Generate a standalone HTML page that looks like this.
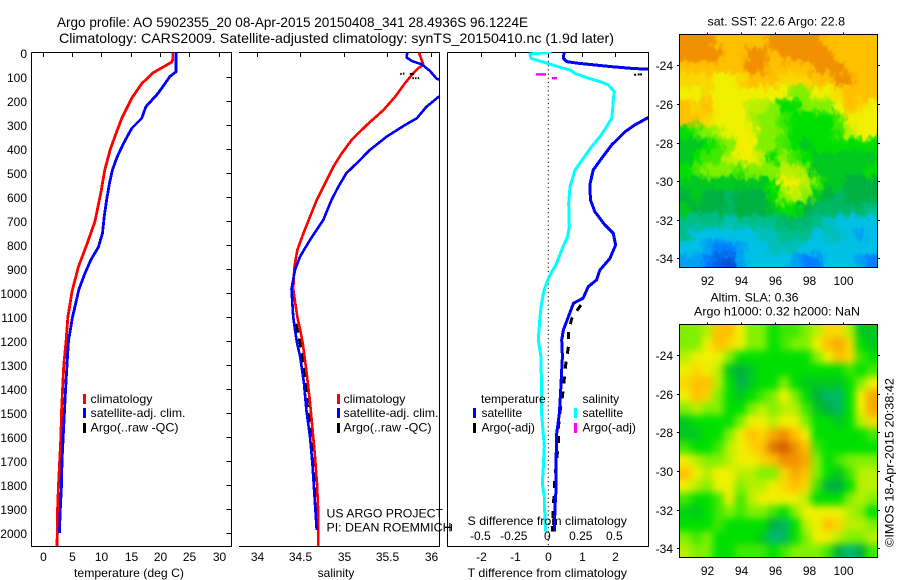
<!DOCTYPE html>
<html>
<head>
<meta charset="utf-8">
<title>Argo profile</title>
<style>
html,body{margin:0;padding:0;background:#fff;}
svg{display:block;}
text{font-family:"Liberation Sans",sans-serif;font-size:12px;fill:#000;}
.t14{font-size:14px;}
</style>
</head>
<body>
<svg id="fig" xmlns="http://www.w3.org/2000/svg" width="900" height="580" viewBox="0 0 900 580">
<defs>
<clipPath id="c1"><rect x="32" y="52" width="199" height="494"/></clipPath>
<clipPath id="c2"><rect x="239" y="52" width="200" height="494"/></clipPath>
<clipPath id="c3"><rect x="448" y="52" width="200" height="494"/></clipPath>
<clipPath id="cm1"><rect x="680" y="35" width="197" height="232"/></clipPath>
<clipPath id="cm2"><rect x="680" y="325" width="197" height="232"/></clipPath>
<filter id="blurA" x="-10%" y="-10%" width="120%" height="120%" color-interpolation-filters="sRGB">
<feGaussianBlur in="SourceGraphic" stdDeviation="2.5" result="soft"/>
<feTurbulence type="fractalNoise" baseFrequency="0.16 0.11" numOctaves="2" seed="7" result="noise"/>
<feDisplacementMap in="soft" in2="noise" scale="16" xChannelSelector="R" yChannelSelector="G"/>
</filter>
<filter id="blurB" x="-10%" y="-10%" width="120%" height="120%" color-interpolation-filters="sRGB"><feGaussianBlur stdDeviation="3.6"/></filter>
</defs>

<text class="t14" x="57" y="27" textLength="471" lengthAdjust="spacingAndGlyphs">Argo profile: AO 5902355_20 08-Apr-2015 20150408_341 28.4936S 96.1224E</text>
<text class="t14" x="59" y="43" textLength="555" lengthAdjust="spacingAndGlyphs">Climatology: CARS2009. Satellite-adjusted climatology: synTS_20150410.nc (1.9d later)</text>

<g id="p1">
<path d="M31.5 52.5H231.5V546.5H31.5V52.5" fill="none" stroke="#000" stroke-width="1" shape-rendering="crispEdges"/>
</g>
<g id="p2">
<path d="M239 52.5H439.5V546.5H239" fill="none" stroke="#000" stroke-width="1" shape-rendering="crispEdges"/>
</g>
<g id="p3">
<path d="M447.5 52.5H648.5V546.5H447.5V52.5" fill="none" stroke="#000" stroke-width="1" shape-rendering="crispEdges"/>
<path d="M445 527.5H451.5M451.5 524V531" fill="none" stroke="#000" stroke-width="1" shape-rendering="crispEdges"/>
</g>

<g id="m1"></g>
<g id="m2"></g>

<!-- legends -->
<g>
<rect x="83" y="394" width="3" height="10" fill="#f00"/>
<rect x="83" y="408" width="3" height="10" fill="#00f"/>
<rect x="83" y="423" width="3" height="10" fill="#000"/>
<text x="90.5" y="403" textLength="62" lengthAdjust="spacingAndGlyphs">climatology</text>
<text x="90.5" y="417" textLength="95" lengthAdjust="spacingAndGlyphs">satellite-adj. clim.</text>
<text x="90.5" y="431.5" textLength="88" lengthAdjust="spacingAndGlyphs">Argo(..raw -QC)</text>
</g>
<g>
<rect x="337" y="394" width="3" height="10" fill="#f00"/>
<rect x="337" y="408" width="3" height="10" fill="#00f"/>
<rect x="337" y="423" width="3" height="10" fill="#000"/>
<text x="343.5" y="403" textLength="62" lengthAdjust="spacingAndGlyphs">climatology</text>
<text x="343.5" y="417" textLength="95" lengthAdjust="spacingAndGlyphs">satellite-adj. clim.</text>
<text x="343.5" y="431.5" textLength="88" lengthAdjust="spacingAndGlyphs">Argo(..raw -QC)</text>
<text x="326.5" y="517.5" textLength="116.5" lengthAdjust="spacingAndGlyphs">US ARGO PROJECT</text>
<text x="326.5" y="531.5" textLength="125" lengthAdjust="spacingAndGlyphs">PI: DEAN ROEMMICH</text>
</g>
<g>
<text x="481" y="403">temperature</text>
<text x="582.5" y="403">salinity</text>
<rect x="473" y="408" width="3" height="10" fill="#00f"/>
<rect x="473" y="423" width="3" height="10" fill="#000"/>
<rect x="574" y="408" width="3" height="10" fill="#0ff"/>
<rect x="574" y="423" width="3" height="10" fill="#f0f"/>
<text x="481.5" y="417">satellite</text>
<text x="481.5" y="431.5">Argo(-adj)</text>
<text x="582.5" y="417">satellite</text>
<text x="582.5" y="431.5">Argo(-adj)</text>
</g>

<text x="74" y="577" textLength="110" lengthAdjust="spacingAndGlyphs">temperature (deg C)</text>
<text x="336" y="577" text-anchor="middle">salinity</text>
<text x="467.5" y="525" textLength="159.5" lengthAdjust="spacingAndGlyphs">S difference from climatology</text>
<text x="467.5" y="577" textLength="159.5" lengthAdjust="spacingAndGlyphs">T difference from climatology</text>

<text x="707.5" y="25.5" textLength="137.5" lengthAdjust="spacingAndGlyphs">sat. SST: 22.6 Argo: 22.8</text>
<text x="710.5" y="301.5" textLength="88" lengthAdjust="spacingAndGlyphs">Altim. SLA: 0.36</text>
<text x="694" y="315.5" textLength="166" lengthAdjust="spacingAndGlyphs">Argo h1000: 0.32 h2000: NaN</text>
<text transform="translate(893.5,547) rotate(-90)" textLength="169" lengthAdjust="spacingAndGlyphs">©IMOS 18-Apr-2015 20:38:42</text>
</svg>

<script>
// ----- axis tick labels -----
var depthTicks = [0,100,200,300,400,500,600,700,800,900,1000,1100,1200,1300,1400,1500,1600,1700,1800,1900,2000];
var tempTicks = [0,5,10,15,20,25,30];
var salTicks = [34,34.5,35,35.5,36];
var dTTicks = [-2,-1,0,1,2];
var dSTicks = [-0.5,-0.25,0,0.25,0.5];
var lonTicks = [92,94,96,98,100];
var latTicks = [-24,-26,-28,-30,-32,-34];

// ----- temperature panel -----
var tempClimDepth = [0,30,40,60,85,130,190,274,344,406,489,587,704,801,892,996,1100,1200,1300,1400,1500,1600,1700,1800,1900,2000,2060];
var tempClimValue = [22.2,22.2,22.0,20.6,18.8,16.9,15.2,13.5,12.4,11.5,10.6,9.9,8.9,7.5,6.1,5.0,4.3,4.0,3.6,3.4,3.2,3.1,2.9,2.7,2.55,2.5,2.4];
var tempSatDepth = [0,80,100,170,226,274,315,378,435,489,544,614,684,752,810,864,920,985,1100,1200,1300,1400,1500,1600,1700,1800,1900,2000];
var tempSatValue = [22.75,22.75,21.7,19.7,17.6,16.9,15.2,13.8,12.7,11.9,11.4,10.9,10.5,10.2,9.5,8.2,7.2,6.2,5.1,4.4,4.15,3.9,3.7,3.5,3.3,3.2,3.0,2.85];

// ----- salinity panel -----
var salClimDepth = [0,24,52,65,94,128,185,240,302,364,420,476,545,614,684,754,823,892,985,1100,1155,1211,1336,1447,1544,1669,1794,1933,2055];
var salClimValue = [35.866,35.889,35.916,35.858,35.782,35.705,35.59,35.456,35.264,35.092,34.977,34.881,34.785,34.69,34.613,34.536,34.467,34.433,34.42,34.467,34.5,34.53,34.575,34.61,34.636,34.667,34.693,34.709,34.709];
var salSatDepth = [0,21,35,49,76,110,130,170,185,226,274,302,350,406,461,503,558,614,697,780,850,905,985,1100,1155,1211,1267,1378,1489,1600,1711,1822,1988];
var salSatValue = [35.73,35.724,35.78,35.897,35.99,36.07,36.25,36.2,36.09,35.95,35.84,35.705,35.494,35.3,35.15,35.03,34.94,34.86,34.766,34.613,34.498,34.44,34.40,34.42,34.44,34.464,34.5,34.544,34.571,34.613,34.64,34.66,34.69];
var salArgoDepth = [1130,1211,1300,1378,1500,1600,1700,1822,1900,1980];
var salArgoValue = [34.45,34.5,34.54,34.56,34.59,34.625,34.65,34.67,34.685,34.7];
var salArgoTopDepth = [89,88,89,107,107,107];
var salArgoTopValue = [35.65,35.68,35.76,35.79,35.82,35.85];

// ----- difference panel -----
var dTSatDepth = [0,24,38,45,52,59,66,70,76];
var dTSatValue = [0.47,0.45,0.55,0.9,1.4,1.9,2.5,3.0,3.5];
var dTDeepDepth = [200,271,302,330,385,441,489,552,614,663,718,753,802,857,906,947,975,1023,1044,1100,1155,1197,1266,1405,1502,1586,1711,1822,1891,1995];
var dTDeepValue = [4.4,2.98,2.58,2.29,1.89,1.59,1.34,1.24,1.26,1.39,1.69,1.94,2.01,1.84,1.54,1.44,1.19,1.04,0.75,0.6,0.45,0.4,0.42,0.37,0.33,0.25,0.23,0.23,0.2,0.18];
var dSSatDepth = [0,6,24,38,59,73,87,107,121,135,163,198,239,274,309,350,392,441,489,559,628,725,767,822,878,933,989,1044,1100,1197,1266,1405,1502,1641,1725,1794,1850,1933,1995];
var dSSatValue = [0.025,-0.137,-0.129,-0.05,0.075,0.162,0.199,0.299,0.386,0.448,0.493,0.485,0.48,0.473,0.435,0.386,0.323,0.261,0.199,0.162,0.152,0.157,0.144,0.1,0.062,0.007,-0.032,-0.05,-0.062,-0.075,-0.055,-0.05,-0.05,-0.03,-0.037,-0.045,-0.03,-0.025,-0.02];
var dTArgoDepth = [1051,1107,1162,1225,1301,1370,1433,1495,1565,1627,1766,1836,1905,1995];
var dTArgoValue = [0.97,0.7,0.6,0.6,0.52,0.47,0.42,0.35,0.3,0.3,0.2,0.17,0.15,0.12];
var dTArgoTopDepth = [93,91,91];
var dTArgoTopValue = [2.56,2.67,2.74];
var dSArgoStart = [-0.092,0.027];
var dSArgoEnd = [-0.017,0.065];
var dSArgoDepth = [91,107];

// ----- map grids (colour level 0 = deep blue ... 10 = dark orange) -----
var sstRows = [
[9,9,9,8,8,8,8,8,9,9,9,9,9,8,8,8,8,8],
[9,9,9,9,8,8,9,9,8,9,9,9,9,9,8,8,8,8],
[8,8,8,8,8,8,9,9,8,8,8,8,9,9,9,8,8,8],
[7.5,7.5,7.5,7,7,7.5,8,8,8,7.5,7.5,7.5,8,8,9,9,8,8],
[7,7,7.5,7,7,7,7,7,7,7,6,6,7,7,7.5,8,8,8],
[8,7.5,8,7,7,7,6.5,6.5,6,5,5,6,6,6,7,8,7.5,7],
[8,8,7.5,7,7,7,6.5,6,6,5.5,5,5,5,5,5.5,7,7,7],
[5,5.5,6,6.5,7,7,7,6,6,5.5,5,5,5,5,5.5,6.5,7,7],
[4.5,4.5,5,5.5,6,7,7,6,6,5.5,5,4.5,5,5,5,5,5,5],
[4.5,5,5.5,5.5,6.5,7,7,6.5,5,6,5.5,5,4.5,4.5,4.5,4.5,4.5,4.5],
[5,5.5,6,6,6,5.5,6,6,6,6.5,6.5,6,4.5,4.5,4.5,4.5,4.5,5],
[4.5,4.5,4.5,4.5,4.5,4.5,4.5,4.5,5,7,7,6.5,5.5,4.5,4.5,4,4,4],
[4,4.5,4,4,3.5,4,4,4,5,6,6.5,6,4.5,4,3.5,4,4,4],
[4.5,4,4,4,3.5,4,4,4,4.5,5,5,4,3.5,3.5,3.5,3.5,3.5,3],
[3,3,3,3,2.5,3,3,3,3,3.5,3.5,3.5,3,2.5,2,2,2,2],
[3,2,2,2,2,2,2,2.5,2.5,3,3,3,2,2.5,2.5,2,1.5,2],
[2,2,1.5,1,1,1.5,2,2,2.5,2.5,2.5,2,2,2,2,2,2,2],
[1.5,1.5,1,0.5,0.3,1.5,2,2,2,2,1.5,1,1,2,2,2,1.5,1]
];
var slaRows = [
[6,6,6.5,8,8,7,6,6,5,5.5,5.5,6,6.5,7.5,7.5,6.5,4.5,4.5],
[6,6,7,8,7.5,7,6,6,5,5.5,6,6,7,8,8.5,7.5,5,4.5],
[6.5,7,7,7,6,5,5,5,5,5,5,5,6,7,8,7.5,5.5,5],
[7,7.5,7,6.5,4.5,4,4.5,5,5,5,5,5,5,5,5,5.5,5,5.5],
[7.5,8,8,6.5,5,3.8,4.5,5,5,6,5,4.5,4.5,4.5,4.5,5,6,7],
[7,8,7.5,6,5,4.5,5,5.5,6,7,6,5,4,3.5,3.5,5,7,8.5],
[6,6.5,6,6,5,5,6,6.5,6,6.5,6.5,5.5,4.5,4,3.5,5,7,8.5],
[4.5,5,5,5,5,6,7,7,6.5,7,7,6,5,5,4.5,5,6.5,7.5],
[4.5,4.5,5,5,6,7,8,7.5,8.5,9,8,7,5,5,5,5,5,5.5],
[5.5,5,5,5.5,6.5,7,7.5,8,9.5,10,9,8,5.5,5,5,5,5,5],
[7,6.5,6,6,6.5,7,7,7.5,8,9,9,8.5,6,5,5.5,6,6,6],
[8,7,6.5,7,7,6.5,6.5,6,6,7.5,8.5,8,6,5,4.5,5.5,6.5,6.5],
[7,6.5,6,7,7,6,6.5,6.5,7,7.5,8,7.5,5.5,4,4,5,6.5,6.5],
[5.5,5,5,5.5,7,5.5,6.5,7,7,7,7,6.5,5,5,5,6,6.5,6],
[4.8,4.5,5,5.5,6,5.5,6,6,5.5,5,6,7,7,7,7,6.5,6,5],
[5,5,5,5.5,5,5,5,5,4,3.5,5,6.5,7,8,7.5,6.5,6.5,6],
[6,5.5,6,5,5,5,5,4.5,3.3,3.5,5,6,7,7,6.5,6,6,6.5],
[6.5,6,6,5,5,5.5,5.5,5.5,5,5.5,6,6,6,5.5,4,3.2,4,5.5]
];

// ----- axis functions -----
var NS = 'http://www.w3.org/2000/svg';
function yDepth(d){ return 52.5 + d * 0.2402; }
function xTemp(t){ return 42.7 + t * 5.86; }
function xSal(s){ return 256.7 + (s - 34) * 87; }
function xDT(t){ return 548.3 + t * 33.5; }
function xDS(s){ return 548.3 + s * 134; }
function lonX(lon){ return 707.3 + (lon - 92) * 17; }
function latA(lat){ return 65.3 + (-24 - lat) * 19.3; }
function latB(lat){ return 355 + (-24 - lat) * 19.33; }

var levels = [0,1,2,3,4,5,6,7,8,9,10];
var levelColors = [[0,64,192],[0,128,255],[0,192,230],[0,190,140],[0,176,64],[0,224,0],[128,240,0],[240,240,0],[255,192,0],[240,144,0],[208,96,0]];
function colorOf(v){
  var i = Math.max(0, Math.min(levels.length - 2, Math.floor(v)));
  var f = Math.max(0, Math.min(1, v - levels[i]));
  var a = levelColors[i], b = levelColors[i + 1];
  return 'rgb(' + Math.round(a[0] + (b[0] - a[0]) * f) + ',' + Math.round(a[1] + (b[1] - a[1]) * f) + ',' + Math.round(a[2] + (b[2] - a[2]) * f) + ')';
}

function node(parent, tag){
  var el = document.createElementNS(NS, tag);
  parent.appendChild(el);
  return el;
}
function curve(parent, depths, values, xf, color, width, clip, dash){
  var el = node(parent, 'polyline');
  var pts = [];
  for (var i = 0; i < depths.length; i++) {
    pts.push(xf(values[i]).toFixed(1) + ',' + yDepth(depths[i]).toFixed(1));
  }
  el.setAttribute('points', pts.join(' '));
  el.setAttribute('fill', 'none');
  el.setAttribute('stroke', color);
  el.setAttribute('stroke-width', width);
  el.setAttribute('stroke-linejoin', 'round');
  el.setAttribute('shape-rendering', 'crispEdges');
  el.setAttribute('clip-path', 'url(#' + clip + ')');
  if (dash) el.setAttribute('stroke-dasharray', dash);
  return el;
}
function label(parent, x, y, str, anchor){
  var el = node(parent, 'text');
  el.setAttribute('x', x);
  el.setAttribute('y', y);
  el.setAttribute('text-anchor', anchor);
  el.textContent = str;
  return el;
}
function tick(parent, x1, y1, x2, y2){
  var el = node(parent, 'line');
  el.setAttribute('x1', x1);
  el.setAttribute('y1', y1);
  el.setAttribute('x2', x2);
  el.setAttribute('y2', y2);
  el.setAttribute('stroke', '#000');
  el.setAttribute('shape-rendering', 'crispEdges');
  return el;
}

var p1 = document.getElementById('p1');
var p2 = document.getElementById('p2');
var p3 = document.getElementById('p3');

// depth axis on the temperature panel
depthTicks.forEach(function(d){
  var y = Math.round(yDepth(d)) + 0.5;
  var l = label(p1, 27, y + 4.5, String(d), 'end');
  
  
  if (d > 0) {
    var t = tick(p1, 226.5, y, 231.5, y);
    
    
  }
});
tempTicks.forEach(function(v){
  var x = Math.round(xTemp(v)) + 0.5;
  var l = label(p1, x, 561, String(v), 'middle');
  
  
  var t = tick(p1, x, 52.5, x, 57);
  
  
});
salTicks.forEach(function(v){
  var x = Math.round(xSal(v)) + 0.5;
  var l = label(p2, x, 561, String(v), 'middle');
  
  
  var t = tick(p2, x, 52.5, x, 57);
  
  
});
dTTicks.forEach(function(v){
  var x = Math.round(xDT(v)) + 0.5;
  var l = label(p3, x, 561, String(v), 'middle');
  
  
  var t = tick(p3, x, 52.5, x, 57);
  
  
});
dSTicks.forEach(function(v){
  var l = label(p3, xDS(v) - 1, 540, String(v), 'middle');
  
  
});

// temperature curves
var c;
c = curve(p1, tempClimDepth, tempClimValue, xTemp, '#f00', 2.8, 'c1');


c = curve(p1, tempSatDepth, tempSatValue, xTemp, '#00f', 2.8, 'c1');



// salinity curves
c = curve(p2, salArgoDepth, salArgoValue, xSal, '#000', 3, 'c2', '9 6');


c = curve(p2, salClimDepth, salClimValue, xSal, '#f00', 2.6, 'c2');


c = curve(p2, salSatDepth, salSatValue, xSal, '#00f', 2.6, 'c2');


salArgoTopDepth.forEach(function(d, i){
  var m = node(p2, 'rect');
  m.setAttribute('x', xSal(salArgoTopValue[i]).toFixed(1));
  m.setAttribute('y', (yDepth(d) - 1).toFixed(1));
  m.setAttribute('width', i === 2 ? 4 : 1.5);
  m.setAttribute('height', 2);
  m.setAttribute('fill', '#000');
  
  
});

// difference panel
var zero = tick(p3, xDT(0), 52.5, xDT(0), 546);
zero.setAttribute('stroke-dasharray', '1.2 3');
zero.removeAttribute('shape-rendering');


c = curve(p3, dTArgoDepth, dTArgoValue, xDT, '#000', 3, 'c3', '7 8');


c = curve(p3, dSSatDepth, dSSatValue, xDS, '#0ff', 3, 'c3');


c = curve(p3, dTSatDepth, dTSatValue, xDT, '#00f', 3, 'c3');


c = curve(p3, dTDeepDepth, dTDeepValue, xDT, '#00f', 3, 'c3');


dTArgoTopDepth.forEach(function(d, i){
  var m = node(p3, 'rect');
  m.setAttribute('x', xDT(dTArgoTopValue[i]).toFixed(1));
  m.setAttribute('y', (yDepth(d) - 1).toFixed(1));
  m.setAttribute('width', 2);
  m.setAttribute('height', 2);
  m.setAttribute('fill', '#000');
  
  
});
dSArgoDepth.forEach(function(d, i){
  var m = node(p3, 'rect');
  m.setAttribute('x', xDS(dSArgoStart[i]).toFixed(1));
  m.setAttribute('y', (yDepth(d) - 1.2).toFixed(1));
  m.setAttribute('width', (xDS(dSArgoEnd[i]) - xDS(dSArgoStart[i])).toFixed(1));
  m.setAttribute('height', 2.4);
  m.setAttribute('fill', '#f0f');
  
  
});

// maps
function drawMap(host, rows, top, height, clip, filter, latFn, baseline, prefix){
  var left = 680, width = 197;
  var clipG = node(host, 'g');
  clipG.setAttribute('clip-path', 'url(#' + clip + ')');
  
  
  var g = node(clipG, 'g');
  g.setAttribute('filter', 'url(#' + filter + ')');
  
  
  var nr = rows.length, nc = rows[0].length;
  var cw = width / nc, ch = height / nr, pad = 20;
  rows.forEach(function(row, r){
    row.forEach(function(v, k){
      var x0 = left + k * cw, y0 = top + r * ch, x1 = x0 + cw, y1 = y0 + ch;
      if (k === 0) x0 -= pad;
      if (k === nc - 1) x1 += pad;
      if (r === 0) y0 -= pad;
      if (r === nr - 1) y1 += pad;
      var cell = node(g, 'rect');
      cell.setAttribute('x', x0.toFixed(2));
      cell.setAttribute('y', y0.toFixed(2));
      cell.setAttribute('width', (x1 - x0 + 0.5).toFixed(2));
      cell.setAttribute('height', (y1 - y0 + 0.5).toFixed(2));
      cell.setAttribute('fill', colorOf(v));
      
      
    });
  });
  var frame = node(host, 'rect');
  frame.setAttribute('x', 679.5);
  frame.setAttribute('y', top - 0.5);
  frame.setAttribute('width', 198);
  frame.setAttribute('height', height + 1);
  frame.setAttribute('fill', 'none');
  frame.setAttribute('stroke', '#000');
  frame.setAttribute('shape-rendering', 'crispEdges');
  
  
  lonTicks.forEach(function(v){
    var x = Math.round(lonX(v)) + 0.5;
    var l = label(host, x, baseline, String(v), 'middle');
    
    
    var t = tick(host, x, top - 2.5, x, top);
    
    
  });
  latTicks.forEach(function(v){
    var y = Math.round(latFn(v)) + 0.5;
    var l = label(host, 673, y + 4.5, String(v), 'end');
    
    
    var t = tick(host, 877.5, y, 880, y);
    
    
    var t2 = tick(host, 677, y, 679.5, y);
    
    
  });
}
drawMap(document.getElementById('m1'), sstRows, 35, 232, 'cm1', 'blurA', latA, 285, 'sst-map');
drawMap(document.getElementById('m2'), slaRows, 325, 232, 'cm2', 'blurB', latB, 575, 'sla-map');
</script>
</body>
</html>
